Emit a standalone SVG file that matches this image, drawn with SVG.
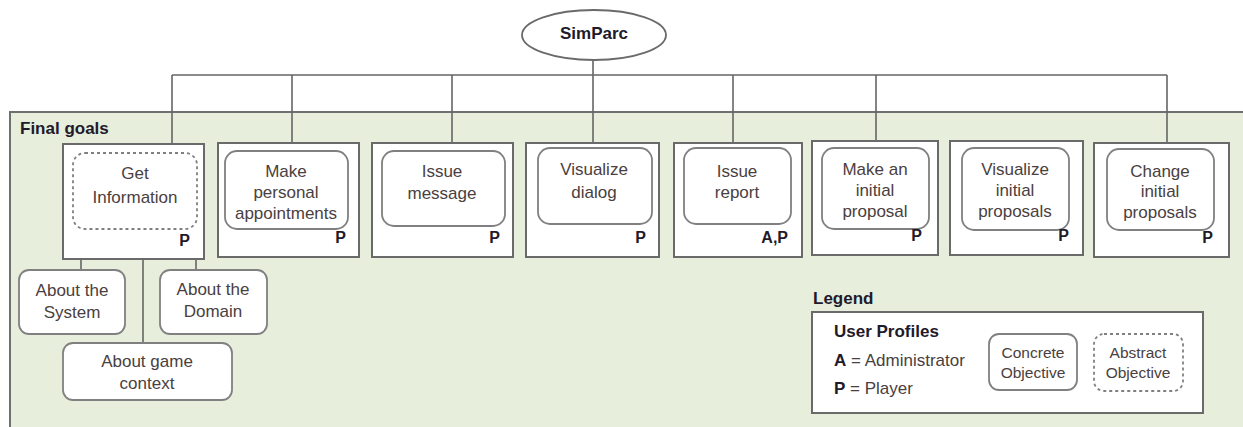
<svg xmlns="http://www.w3.org/2000/svg" width="1243" height="427" viewBox="0 0 1243 427">
<style>
.t{font-family:"Liberation Sans",Arial,sans-serif;font-size:17px;fill:#4a4040;text-anchor:middle}
.b{font-family:"Liberation Sans",Arial,sans-serif;font-weight:bold;fill:#221a2a}
.box{fill:#fff;stroke:#6a6a6a;stroke-width:2}
.in{fill:#fff;stroke:#808080;stroke-width:1.8}
.ab{fill:#fff;stroke:#808080;stroke-width:1.8;stroke-dasharray:3,3}
.ln{stroke:#666;stroke-width:1.6;fill:none}
.p{font-family:"Liberation Sans",Arial,sans-serif;font-weight:bold;font-size:16px;fill:#221a2a;text-anchor:end}
.s{font-size:15.5px}
</style>
<rect x="0" y="0" width="1243" height="427" fill="#fff"/>
<g id="panel">
<rect x="10" y="112" width="1250" height="330" fill="#e8eedc" stroke="#6f6f6f" stroke-width="2"/>
<text class="b" x="20" y="134" font-size="17">Final goals</text>
</g>
<g id="connectors">
<path class="ln" d="M593 60V75M172 75H1167M172 75V144M292 75V143M452 75V143M593 75V143M733 75V143M876 75V141M1167 75V143"/>
<path class="ln" d="M81 259V270M143 259V343M196 259V270"/>
</g>
<g id="simparc">
<ellipse cx="594" cy="35" rx="72" ry="25" fill="#fff" stroke="#6a6a6a" stroke-width="1.8"/>
<text class="b" x="594" y="39" font-size="17" text-anchor="middle">SimParc</text>
</g>
<g id="get-information">
<rect class="box" x="63" y="144" width="141" height="115"/>
<rect class="ab" x="73" y="153" width="124" height="76" rx="12"/>
<text class="t" x="135" y="179">Get</text>
<text class="t" x="135" y="203">Information</text>
<text class="p" x="190" y="246">P</text>
</g>
<g id="make-personal-appointments">
<rect class="box" x="218" y="143" width="141" height="114"/>
<rect class="in" x="225" y="151" width="123" height="78" rx="12"/>
<text class="t" x="286" y="177">Make</text>
<text class="t" x="286" y="198">personal</text>
<text class="t" x="286" y="219">appointments</text>
<text class="p" x="346" y="243">P</text>
</g>
<g id="issue-message">
<rect class="box" x="372" y="143" width="141" height="114"/>
<rect class="in" x="382" y="151" width="123" height="75" rx="12"/>
<text class="t" x="442" y="177">Issue</text>
<text class="t" x="442" y="199">message</text>
<text class="p" x="500" y="243">P</text>
</g>
<g id="visualize-dialog">
<rect class="box" x="526" y="143" width="133" height="114"/>
<rect class="in" x="538" y="148" width="114" height="76" rx="12"/>
<text class="t" x="594" y="175">Visualize</text>
<text class="t" x="594" y="198">dialog</text>
<text class="p" x="646" y="243">P</text>
</g>
<g id="issue-report">
<rect class="box" x="674" y="143" width="128" height="114"/>
<rect class="in" x="684" y="148" width="107" height="76" rx="12"/>
<text class="t" x="737" y="177">Issue</text>
<text class="t" x="737" y="198">report</text>
<text class="p" x="788" y="243">A,P</text>
</g>
<g id="make-an-initial-proposal">
<rect class="box" x="812" y="141" width="126" height="114"/>
<rect class="in" x="822" y="148" width="107" height="81" rx="12"/>
<text class="t" x="875" y="175">Make an</text>
<text class="t" x="875" y="196">initial</text>
<text class="t" x="875" y="217">proposal</text>
<text class="p" x="922" y="241">P</text>
</g>
<g id="visualize-initial-proposals">
<rect class="box" x="950" y="141" width="133" height="114"/>
<rect class="in" x="962" y="148" width="107" height="82" rx="12"/>
<text class="t" x="1015" y="175">Visualize</text>
<text class="t" x="1015" y="196">initial</text>
<text class="t" x="1015" y="217">proposals</text>
<text class="p" x="1069" y="241">P</text>
</g>
<g id="change-initial-proposals">
<rect class="box" x="1094" y="143" width="135" height="114"/>
<rect class="in" x="1107" y="149" width="107" height="81" rx="12"/>
<text class="t" x="1160" y="177">Change</text>
<text class="t" x="1160" y="197">initial</text>
<text class="t" x="1160" y="218">proposals</text>
<text class="p" x="1213" y="243">P</text>
</g>
<g id="about-the-system">
<rect class="in" x="19" y="270" width="106" height="64" rx="10"/>
<text class="t" x="72" y="296">About the</text>
<text class="t" x="72" y="318">System</text>
</g>
<g id="about-the-domain">
<rect class="in" x="160" y="270" width="107" height="64" rx="10"/>
<text class="t" x="213" y="295">About the</text>
<text class="t" x="213" y="317">Domain</text>
</g>
<g id="about-game-context">
<rect class="in" x="63" y="343" width="169" height="57" rx="10"/>
<text class="t" x="147" y="367">About game</text>
<text class="t" x="147" y="389">context</text>
</g>
<g id="legend">
<text class="b" x="813" y="304" font-size="17">Legend</text>
<rect x="812" y="312" width="391" height="101" fill="#fff" stroke="#6a6a6a" stroke-width="2"/>
<text class="b" x="834" y="337" font-size="17">User Profiles</text>
<text x="834" y="366" font-family="Liberation Sans,Arial,sans-serif" font-size="17" fill="#4a4040"><tspan font-weight="bold" fill="#221a2a">A</tspan> = Administrator</text>
<text x="834" y="394" font-family="Liberation Sans,Arial,sans-serif" font-size="17" fill="#4a4040"><tspan font-weight="bold" fill="#221a2a">P</tspan> = Player</text>
<rect class="in" x="989" y="334" width="88" height="56" rx="10"/>
<text class="t s" x="1033" y="358">Concrete</text>
<text class="t s" x="1033" y="378">Objective</text>
<rect class="ab" x="1094" y="334" width="89" height="57" rx="10"/>
<text class="t s" x="1138" y="358">Abstract</text>
<text class="t s" x="1138" y="378">Objective</text>
</g>
</svg>
